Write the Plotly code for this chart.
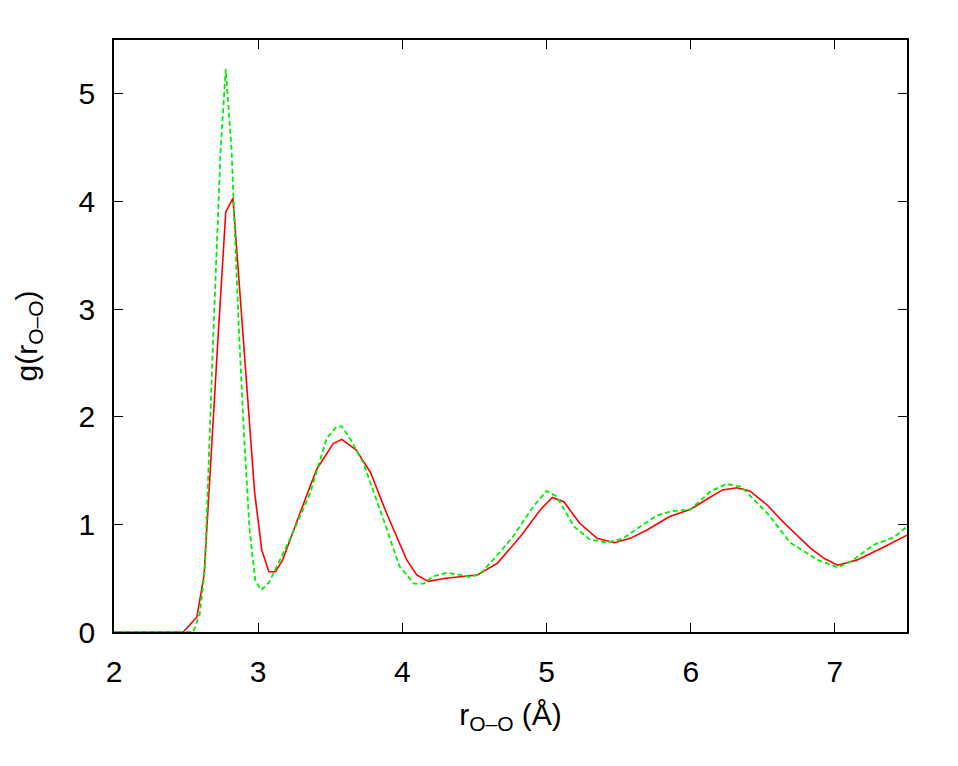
import plotly.graph_objects as go

# Red solid curve (r, g)
red_r = [2.0, 2.45, 2.48, 2.575, 2.625, 2.72, 2.775, 2.825, 2.90, 2.975, 3.025, 3.075, 3.12, 3.17,
         3.29, 3.405, 3.52, 3.58, 3.68, 3.78, 3.89, 4.03, 4.10, 4.18, 4.30, 4.42, 4.52, 4.66,
         4.82, 4.96, 5.04, 5.12, 5.23, 5.35, 5.47, 5.58, 5.70, 5.85, 6.0, 6.12, 6.22, 6.32,
         6.41, 6.53, 6.65, 6.83, 6.93, 7.02, 7.155, 7.34, 7.5]
red_g = [0.0, 0.0, 0.0, 0.14, 0.53, 2.70, 3.90, 4.03, 2.63, 1.30, 0.76, 0.56, 0.56, 0.67,
         1.105, 1.51, 1.75, 1.79, 1.69, 1.48, 1.105, 0.67, 0.53, 0.47, 0.50, 0.515, 0.53, 0.64,
         0.89, 1.14, 1.25, 1.21, 1.01, 0.87, 0.83, 0.87, 0.95, 1.07, 1.14, 1.24, 1.32, 1.34,
         1.31, 1.18, 1.01, 0.78, 0.68, 0.62, 0.67, 0.79, 0.90]

# Green dashed curve (r, g)
green_r = [2.0, 2.5, 2.55, 2.595, 2.63, 2.69, 2.74, 2.775, 2.815, 2.866, 2.90, 2.94, 2.98, 3.02,
           3.075, 3.13, 3.24, 3.36, 3.475, 3.545, 3.58, 3.64, 3.73, 3.87, 3.98, 4.08, 4.15,
           4.21, 4.31, 4.40, 4.47, 4.54, 4.65, 4.77, 4.91, 5.0, 5.07, 5.19, 5.30, 5.42, 5.53,
           5.65, 5.76, 5.86, 6.0, 6.14, 6.25, 6.35, 6.53, 6.69, 6.88, 7.02, 7.11, 7.27, 7.41, 7.5]
green_g = [0.0, 0.0, 0.0, 0.17, 0.58, 2.81, 4.49, 5.23, 4.49, 2.81, 1.88, 0.95, 0.48, 0.39,
           0.46, 0.61, 0.92, 1.29, 1.80, 1.91, 1.91, 1.79, 1.57, 1.04, 0.61, 0.45, 0.45,
           0.515, 0.55, 0.53, 0.51, 0.54, 0.70, 0.89, 1.17, 1.31, 1.26, 0.98, 0.86, 0.83, 0.87,
           0.98, 1.08, 1.12, 1.14, 1.31, 1.375, 1.35, 1.105, 0.83, 0.67, 0.60, 0.655, 0.81, 0.88, 0.98]

x_ticks = [2, 3, 4, 5, 6, 7]
y_ticks = [0, 1, 2, 3, 4, 5]

fig = go.Figure()
fig.add_trace(go.Scatter(x=red_r, y=red_g, mode="lines",
                         line=dict(color="#ff0000", width=1.6), showlegend=False))
fig.add_trace(go.Scatter(x=green_r, y=green_g, mode="lines",
                         line=dict(color="#00ee00", width=1.8, dash="5px,3px"), showlegend=False))

font = dict(family="Liberation Sans, Arial, sans-serif", size=30, color="black")
axis_common = dict(showline=True, linecolor="black", linewidth=1.5, mirror="ticks",
                   ticks="inside", ticklen=9, tickwidth=1.2, tickcolor="black",
                   showgrid=False, zeroline=False, tickfont=font)

fig.update_layout(
    width=958, height=766,
    paper_bgcolor="white", plot_bgcolor="white",
    margin=dict(l=106, r=59, t=32, b=142),
    font=font,
    xaxis=dict(range=[2, 7.5], tickvals=x_ticks, ticktext=[str(v) for v in x_ticks],
               ticklabelstandoff=12,
               title=dict(text="r<sub>O–O</sub> (Å)", font=font, standoff=17), **axis_common),
    yaxis=dict(range=[0, 5.5], tickvals=y_ticks, ticktext=[str(v) for v in y_ticks],
               ticklabelstandoff=11,
               title=dict(text="g(r<sub>O–O</sub>)", font=font, standoff=32), **axis_common),
)

fig.write_html("out.html")
